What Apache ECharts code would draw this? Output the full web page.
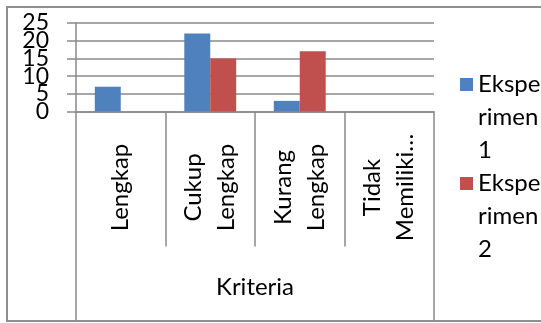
<!DOCTYPE html>
<html>
<head>
<meta charset="utf-8">
<script src="https://cdn.jsdelivr.net/npm/echarts@6/dist/echarts.min.js"></script>
<style>
  html, body { margin: 0; padding: 0; background: #ffffff; overflow: hidden; }
  #frame {
    position: absolute; left: 6px; top: 6px; width: 620px; height: 316px;
    box-sizing: border-box; border: 2px solid #8e8e8e;
  }
  #chart { position: absolute; left: 0; top: 0; width: 541px; height: 323px; }
</style>
</head>
<body>
<div id="frame"></div>
<div id="chart"></div>
<script>
// Criteria categories along the x axis
const categories = ['Lengkap', 'Cukup\nLengkap', 'Kurang\nLengkap', 'Tidak\nMemiliki…'];
// Group label under the categories
const groupLabel = ['Kriteria'];
// Series
const seriesNames = ['Eksperimen 1', 'Eksperimen 2'];
const eksperimen1 = [7, 22, 3, 0];
const eksperimen2 = [0, 15, 17, 0];
// Value axis
const yMin = 0, yMax = 25, yStep = 5;

const FONT = 'Lato';
const GRAY = '#8a8a8a';

// The tick numbers are large enough to crowd each other, so they are split
// over two stacked value axes (even and odd steps) that share one scale.
function stepLabels(parity) {
  return function (v) {
    return Math.round(v / yStep) % 2 === parity ? String(v) : '';
  };
}
const yLabelStyle = { margin: 27, fontFamily: FONT, fontSize: 23, color: '#000' };

const chart = echarts.init(document.getElementById('chart'), null, { renderer: 'canvas' });

chart.setOption({
  backgroundColor: 'transparent',
  animation: false,
  textStyle: { fontFamily: FONT, color: '#000' },
  grid: {
    left: 76, right: 107, top: 23, bottom: 211.5,
    containLabel: false,
    outerBoundsMode: 'none'
  },
  legend: {
    orient: 'vertical',
    left: 455,
    top: -3,
    itemWidth: 13,
    itemHeight: 13,
    itemGap: -66,
    icon: 'rect',
    data: seriesNames,
    // wrap the name into narrow lines; two leading blank lines keep the
    // colour box level with the first line
    formatter: function (name) {
      return '\n\n' + name.slice(0, 5) + '\n' + name.slice(5).replace(' ', '\n');
    },
    textStyle: {
      fontFamily: FONT, fontSize: 24, color: '#000', lineHeight: 33
    }
  },
  xAxis: [
    {
      type: 'category',
      data: categories,
      position: 'bottom',
      axisLine: { show: true, lineStyle: { color: GRAY, width: 1.5 } },
      axisTick: { show: true, interval: 0, length: 135, lineStyle: { color: GRAY, width: 1.5 } },
      axisLabel: {
        interval: 0, rotate: 90, margin: 76,
        align: 'center', verticalAlign: 'middle', hideOverlap: false,
        fontFamily: FONT, fontSize: 24, lineHeight: 33, color: '#000'
      },
      splitLine: { show: false }
    },
    {
      type: 'category',
      data: groupLabel,
      position: 'bottom',
      offset: 0,
      axisLine: { show: false },
      axisTick: { show: true, interval: 0, length: 210, lineStyle: { color: GRAY, width: 1.5 } },
      axisLabel: {
        interval: 0, margin: 176, verticalAlign: 'middle',
        fontFamily: FONT, fontSize: 24, color: '#000'
      },
      splitLine: { show: false }
    }
  ],
  yAxis: [
    {
      type: 'value',
      position: 'left',
      offset: 0,
      min: yMin, max: yMax, interval: yStep,
      axisLine: { show: true, lineStyle: { color: GRAY, width: 1.5 } },
      axisTick: { show: true, length: 9, lineStyle: { color: GRAY, width: 1.5 } },
      axisLabel: Object.assign({ formatter: stepLabels(0), showMinLabel: true, showMaxLabel: true }, yLabelStyle),
      splitLine: { show: true, lineStyle: { color: GRAY, width: 1.5 } }
    },
    {
      type: 'value',
      position: 'left',
      offset: 0,
      min: yMin, max: yMax, interval: yStep,
      axisLine: { show: false },
      axisTick: { show: false },
      axisLabel: Object.assign({ formatter: stepLabels(1), showMinLabel: true, showMaxLabel: true }, yLabelStyle),
      splitLine: { show: false }
    }
  ],
  series: [
    {
      name: seriesNames[0],
      type: 'bar',
      yAxisIndex: 0,
      data: eksperimen1,
      itemStyle: { color: '#4F81BD' },
      barGap: '0%',
      barCategoryGap: '42%'
    },
    {
      name: seriesNames[1],
      type: 'bar',
      yAxisIndex: 0,
      data: eksperimen2,
      itemStyle: { color: '#C0504D' },
      barGap: '0%',
      barCategoryGap: '42%'
    }
  ]
});
</script>
</body>
</html>
